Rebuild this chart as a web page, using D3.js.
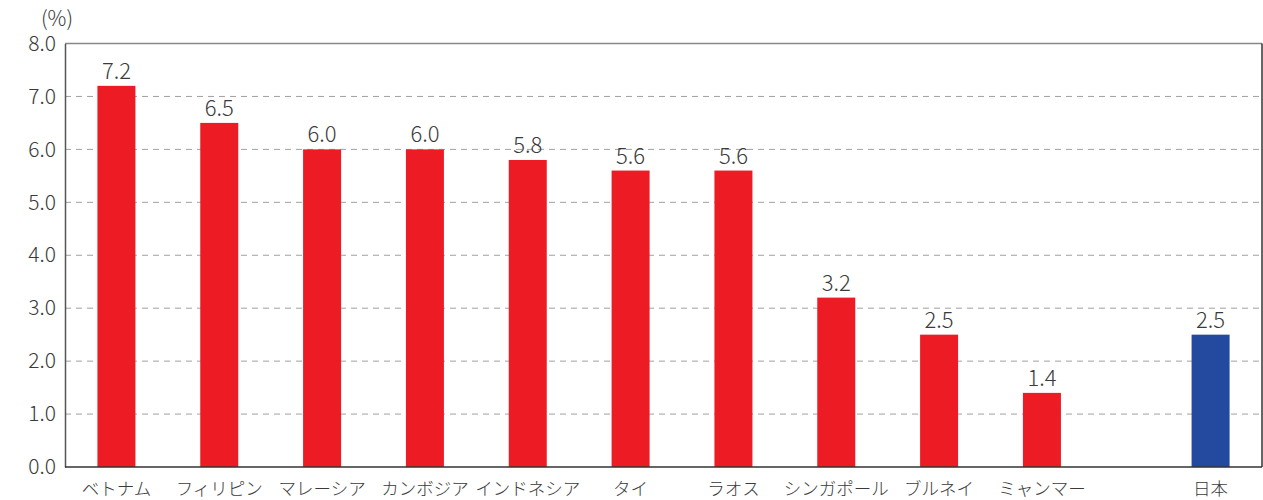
<!DOCTYPE html>
<html>
<head>
<meta charset="utf-8">
<script src="https://cdn.jsdelivr.net/npm/d3@7"></script>
<style>
  body { margin: 0; background: #fff; }
  text { font-family: "Noto Sans CJK JP", "Noto Sans", sans-serif; font-weight: 300; fill: #3a3a3a; }
</style>
</head>
<body>
<svg id="svg" width="1263" height="500"></svg>
<script>
// データ
const countries = ["ベトナム", "フィリピン", "マレーシア", "カンボジア", "インドネシア", "タイ", "ラオス", "シンガポール", "ブルネイ", "ミャンマー"];
const values = [7.2, 6.5, 6.0, 6.0, 5.8, 5.6, 5.6, 3.2, 2.5, 1.4];
const japanLabel = "日本";
const japanValue = 2.5;
const yTicks = [0, 1, 2, 3, 4, 5, 6, 7, 8];

// レイアウト
const plotLeft = 65, plotRight = 1262, plotTop = 43.5, plotBottom = 467;
const gap = 0.64; // 日本の前の空き（スロット単位）
const slots = countries.length + 1 + gap;
const barW = 38;

const svg = d3.select("#svg");

const x = d3.scaleLinear().domain([0, slots]).range([plotLeft, plotRight]);
const y = d3.scaleLinear().domain([0, 8]).range([plotBottom, plotTop]);

// 全データ（位置インデックス付き）
const bars = countries.map((c, i) => ({ name: c, value: values[i], pos: i + 0.5, color: "#ed1c24" }));
bars.push({ name: japanLabel, value: japanValue, pos: countries.length + gap + 0.5, color: "#234a9f" });

// グリッド線
svg.append("g")
  .selectAll("line")
  .data(yTicks.filter(d => d > 0 && d < 8))
  .join("line")
  .attr("x1", plotLeft)
  .attr("x2", plotRight)
  .attr("y1", d => y(d))
  .attr("y2", d => y(d))
  .attr("stroke", "#a0a0a0")
  .attr("stroke-width", 1)
  .attr("stroke-dasharray", "6,5");

// 上の枠
svg.append("line")
  .attr("x1", plotLeft).attr("x2", plotRight)
  .attr("y1", y(8)).attr("y2", y(8))
  .attr("stroke", "#888").attr("stroke-width", 1.5);

// 棒
svg.append("g")
  .selectAll("rect")
  .data(bars)
  .join("rect")
  .attr("x", d => x(d.pos) - barW / 2)
  .attr("y", d => y(d.value))
  .attr("width", barW)
  .attr("height", d => y(0) - y(d.value))
  .attr("fill", d => d.color);

// 値ラベル
svg.append("g")
  .selectAll("text")
  .data(bars)
  .join("text")
  .attr("x", d => x(d.pos))
  .attr("y", d => y(d.value) - 7)
  .attr("text-anchor", "middle")
  .attr("font-size", 22)
  .text(d => d.value.toFixed(1));

// カテゴリラベル
svg.append("g")
  .selectAll("text")
  .data(bars)
  .join("text")
  .attr("x", d => x(d.pos))
  .attr("y", 495)
  .attr("text-anchor", "middle")
  .attr("font-size", 17.5)
  .text(d => d.name);

// Y軸
const yAxis = d3.axisLeft(y).tickValues(yTicks).tickSize(0).tickPadding(9).tickFormat(d3.format(".1f"));
const gy = svg.append("g").attr("transform", `translate(${plotLeft},0)`).call(yAxis);
gy.select(".domain").attr("stroke", "#555").attr("stroke-width", 1.5);
gy.selectAll("text").attr("font-size", 21).attr("fill", "#444")
  .style("font-family", "'Noto Sans CJK JP', sans-serif").style("font-weight", 300);

// 右枠と下軸
svg.append("line")
  .attr("x1", plotRight).attr("x2", plotRight)
  .attr("y1", y(8)).attr("y2", y(0))
  .attr("stroke", "#333").attr("stroke-width", 1.5);
svg.append("line")
  .attr("x1", plotLeft).attr("x2", plotRight)
  .attr("y1", y(0)).attr("y2", y(0))
  .attr("stroke", "#333").attr("stroke-width", 1.5);

// 単位
svg.append("text")
  .attr("x", 57)
  .attr("y", 26)
  .attr("text-anchor", "middle")
  .attr("font-size", 21)
  .text("(%)");
</script>
</body>
</html>
